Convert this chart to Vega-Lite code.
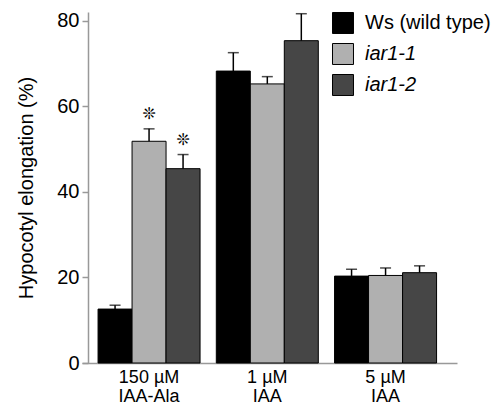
{
  "$schema": "https://vega.github.io/schema/vega-lite/v6.json",
  "autosize": {"type": "none"},
  "padding": {"left": 82, "top": 12, "right": 44, "bottom": 45},
  "width": 375,
  "height": 351,
  "background": "white",
  "config": {
    "font": "Liberation Sans",
    "view": {"stroke": null}
  },
  "data": {
    "values": [
      {"group": "150 µM|IAA-Ala", "genotype": "Ws (wild type)", "value": 12.6, "upper": 13.5, "sig": ""},
      {"group": "150 µM|IAA-Ala", "genotype": "iar1-1", "value": 51.8, "upper": 54.7, "sig": "❊"},
      {"group": "150 µM|IAA-Ala", "genotype": "iar1-2", "value": 45.4, "upper": 48.7, "sig": "❊"},
      {"group": "1 µM|IAA", "genotype": "Ws (wild type)", "value": 68.2, "upper": 72.5, "sig": ""},
      {"group": "1 µM|IAA", "genotype": "iar1-1", "value": 65.2, "upper": 66.9, "sig": ""},
      {"group": "1 µM|IAA", "genotype": "iar1-2", "value": 75.3, "upper": 81.6, "sig": ""},
      {"group": "5 µM|IAA", "genotype": "Ws (wild type)", "value": 20.3, "upper": 21.9, "sig": ""},
      {"group": "5 µM|IAA", "genotype": "iar1-1", "value": 20.45, "upper": 22.2, "sig": ""},
      {"group": "5 µM|IAA", "genotype": "iar1-2", "value": 21.1, "upper": 22.7, "sig": ""}
    ]
  },
  "encoding": {
    "x": {
      "field": "group",
      "type": "nominal",
      "sort": ["150 µM|IAA-Ala", "1 µM|IAA", "5 µM|IAA"],
      "scale": {"paddingInner": 0.1374, "paddingOuter": 0.1543, "align": 0.44},
      "axis": {
        "title": null,
        "labelAngle": 0,
        "labelExpr": "split(datum.label, '|')",
        "labelFontSize": 18,
        "labelLineHeight": 19,
        "labelColor": "black",
        "labelPadding": 5,
        "ticks": false,
        "domainColor": "#999999",
        "domainWidth": 1.5
      }
    },
    "xOffset": {
      "field": "genotype",
      "type": "nominal",
      "sort": ["Ws (wild type)", "iar1-1", "iar1-2"],
      "scale": {"paddingInner": 0, "paddingOuter": 0}
    }
  },
  "layer": [
    {
      "mark": {"type": "bar", "stroke": "black", "strokeWidth": 1},
      "encoding": {
        "y": {
          "field": "value",
          "type": "quantitative",
          "scale": {"domain": [0, 82], "nice": false},
          "axis": {
            "values": [0, 20, 40, 60, 80],
            "title": "Hypocotyl elongation (%)",
            "titleFontSize": 20,
            "titleFontWeight": "normal",
            "titleColor": "black",
            "titlePadding": 20,
            "labelFontSize": 20,
            "labelColor": "black",
            "labelPadding": 3,
            "tickColor": "#999999",
            "tickSize": 6,
            "tickWidth": 1.5,
            "domainColor": "#999999",
            "domainWidth": 1.5,
            "grid": false,
            "offset": -6
          }
        },
        "fill": {
          "field": "genotype",
          "type": "nominal",
          "sort": ["Ws (wild type)", "iar1-1", "iar1-2"],
          "scale": {"range": ["#000000", "#b0b0b0", "#464646"]},
          "legend": {
            "title": null,
            "orient": "none",
            "legendX": 250,
            "legendY": 0,
            "symbolType": "square",
            "symbolSize": 440,
            "symbolStrokeColor": "black",
            "symbolStrokeWidth": 1,
            "symbolOpacity": 1,
            "labelFontSize": 20,
            "labelColor": "black",
            "labelOffset": 11,
            "rowPadding": 5,
            "labelLimit": 300,
            "encode": {
              "labels": {
                "update": {
                  "fontStyle": {"signal": "datum.value === 'Ws (wild type)' ? 'normal' : 'italic'"}
                }
              }
            }
          }
        }
      }
    },
    {
      "mark": {"type": "rule", "color": "black", "strokeWidth": 1.5},
      "encoding": {
        "y": {"field": "value", "type": "quantitative"},
        "y2": {"field": "upper"}
      }
    },
    {
      "mark": {"type": "tick", "color": "black", "thickness": 1.5, "size": 11, "orient": "horizontal"},
      "encoding": {
        "y": {"field": "upper", "type": "quantitative"}
      }
    },
    {
      "transform": [{"filter": "datum.sig != ''"}],
      "mark": {"type": "text", "font": "DejaVu Sans", "fontSize": 16, "dy": -15, "baseline": "middle", "color": "black"},
      "encoding": {
        "y": {"field": "upper", "type": "quantitative"},
        "text": {"field": "sig"}
      }
    }
  ]
}
